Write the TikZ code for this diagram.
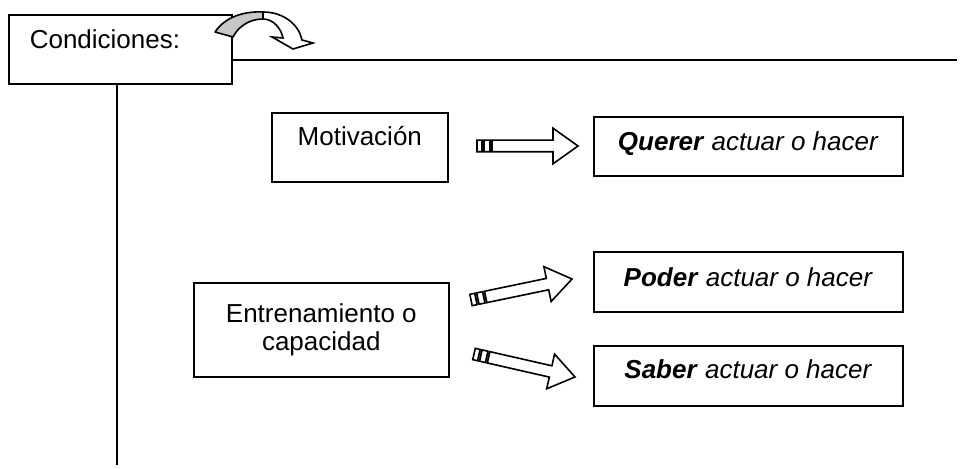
\documentclass[tikz,border=0pt]{standalone}
\usepackage{fontspec}
\setmainfont{Liberation Sans}
\usetikzlibrary{calc}
\definecolor{flapgray}{gray}{0.78}
% striped block arrow from a tail coordinate to a tip coordinate
\newcommand{\stripedarrow}[2]{%
  \draw[blockarrow] let \p1=($(#2)-(#1)$), \n1={atan2(\y1,\x1)}, \n2={veclen(\x1,\y1)} in
    [shift={(#1)},rotate=\n1]
    (7.5pt,-2.9pt) -- ({\n2-12.5pt},-2.9pt) -- ({\n2-12.5pt},-8.9pt) -- ({\n2+0pt},0pt)
    -- ({\n2-12.5pt},8.9pt) -- ({\n2-12.5pt},2.9pt) -- (7.5pt,2.9pt) -- cycle
    (0pt,-2.9pt) rectangle (2.5pt,2.9pt)
    (3.5pt,-2.9pt) rectangle (6.5pt,2.9pt);}
\begin{document}
\begin{tikzpicture}[x=0.5pt,y=-0.5pt,line width=0.8pt,
    box/.style={draw,anchor=north west,inner ysep=4pt,font=\fontsize{13}{14}\selectfont},
    blockarrow/.style={draw,fill=white,line width=0.8pt,line join=miter}]
  \useasboundingbox (0,0) rectangle (961,469);
  % heading box and its two rules
  \node[box,text width=90.5pt,inner xsep=10.5pt,align=left,text height=13pt,text depth=13.5pt] (cond) at (8,14) {Condiciones:};
  \coordinate (hend) at (957,60);
  \coordinate (vend) at (117,465);
  \draw (cond.east |- hend) -- (hend);
  \draw (cond.south -| vend) -- (vend);
  % curved arrow on the corner
  \draw[fill=flapgray,line join=round] (215,32) .. controls (225,17) and (244,11) .. (263,12)
    -- (263,19) .. controls (249,19) and (238,27) .. (233,37) -- cycle;
  \draw[fill=white,line join=miter] (263,12) .. controls (284,12) and (299,25) .. (302,40)
    -- (313,43) -- (293,49) -- (272,37) -- (283,38) .. controls (281,28) and (273,19) .. (263,19) -- cycle;
  % boxes
  \node[box,minimum width=88pt,text height=12.5pt,text depth=14pt] (motiv) at (271,112) {Motivación};
  \node[box,minimum width=154.5pt,text height=13pt,text depth=8.5pt] (querer) at (593,116) {\textbf{\textit{Querer}} \textit{actuar o hacer}};
  \node[box,minimum width=127.5pt,minimum height=47pt,align=center] (entren) at (193,282) {Entrenamiento o\\capacidad};
  \node[box,minimum width=154.5pt,text height=13.5pt,text depth=8.5pt] (poder) at (593,251) {\textbf{\textit{Poder}} \textit{actuar o hacer}};
  \node[box,minimum width=154.5pt,text height=12.5pt,text depth=9.5pt] (saber) at (593,345) {\textbf{\textit{Saber}} \textit{actuar o hacer}};
  % arrows
  \coordinate (q-tail) at (477,146); \coordinate (q-tip) at (578,146);
  \coordinate (p-tail) at (471,300); \coordinate (p-tip) at (572,279);
  \coordinate (s-tail) at (474,354); \coordinate (s-tip) at (575,377);
  \stripedarrow{q-tail}{q-tip}
  \stripedarrow{p-tail}{p-tip}
  \stripedarrow{s-tail}{s-tip}
\end{tikzpicture}
\end{document}
